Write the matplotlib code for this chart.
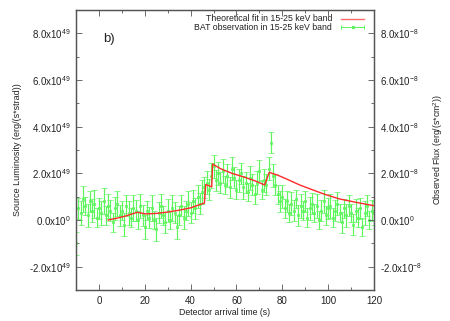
import matplotlib
matplotlib.use("Agg")
import matplotlib.pyplot as plt
from matplotlib.ticker import FixedLocator, MultipleLocator

plt.rcParams['font.family'] = ['Liberation Sans', 'DejaVu Sans']
plt.rcParams['mathtext.fontset'] = 'custom'
plt.rcParams['mathtext.rm'] = 'Liberation Sans'
plt.rcParams['mathtext.default'] = 'regular'

# BAT observation (units of 1e49 erg/(s*strad))
obs_t = list(range(-10, 121))
obs_l = [-1.0, 0.5, 0.3, 0.9, 0.6, 0.2, 0.8, 0.4, 0.7, 0.1,
         0.5, 0.3, 0.8, 0.2, 0.6, 0.4, -0.1, 0.5, 0.7, 0.2,
         0.4, -0.2, 0.6, 0.3, 0.1, 0.5, 0.4, 0.0, 0.6, 0.2,
         -0.3, 0.4, 0.1, 0.5, 0.0, -0.4, 0.3, 0.6, 0.2, -0.1,
         0.4, 0.0, 0.5, 0.3, -0.3, 0.2, 0.6, 0.1, 0.4, 0.7,
         0.3, 0.8, 0.5, 1.0, 0.7, 1.2, 1.4, 1.6, 1.3, 1.9,
         2.3, 1.7, 2.0, 1.6, 2.1, 1.5, 1.9, 1.4, 2.2, 1.8,
         1.3, 1.7, 2.0, 1.4, 1.6, 1.2, 1.8, 1.5, 1.1, 1.6,
         2.1, 1.3, 1.7, 1.5, 2.2, 3.3, 1.9, 1.5, 1.1, 0.8,
         1.0, 0.5, 0.8, 0.3, 0.7, 0.4, 0.9, 0.2, 0.6, 0.4,
         0.8, 0.1, 0.5, 0.7, 0.3, 0.6, 0.0, 0.4, 0.8, 0.2,
         0.5, 0.6, 0.1, 0.4, 0.7, 0.3, -0.1, 0.5, 0.2, 0.6,
         0.3, -0.2, 0.4, 0.1, 0.5, -0.3, 0.3, 0.6, 0.0, 0.4,
         0.3]
obs_err = [0.5, 0.45, 0.5, 0.55, 0.4, 0.5, 0.45, 0.5, 0.6, 0.4,
           0.45, 0.5, 0.55, 0.4, 0.5, 0.45, 0.4, 0.5, 0.55, 0.45,
           0.4, 0.5, 0.45, 0.5, 0.4, 0.55, 0.45, 0.4, 0.5, 0.45,
           0.5, 0.4, 0.45, 0.55, 0.4, 0.5, 0.45, 0.5, 0.4, 0.45,
           0.5, 0.4, 0.55, 0.45, 0.5, 0.4, 0.45, 0.5, 0.4, 0.55,
           0.45, 0.5, 0.45, 0.5, 0.45, 0.5, 0.45, 0.5, 0.45, 0.55,
           0.5, 0.45, 0.5, 0.45, 0.5, 0.4, 0.5, 0.45, 0.5, 0.45,
           0.4, 0.5, 0.45, 0.5, 0.45, 0.4, 0.5, 0.45, 0.4, 0.5,
           0.45, 0.4, 0.5, 0.45, 0.5, 0.45, 0.5, 0.45, 0.4, 0.45,
           0.5, 0.4, 0.45, 0.4, 0.5, 0.45, 0.4, 0.45, 0.5, 0.4,
           0.45, 0.4, 0.5, 0.45, 0.4, 0.5, 0.4, 0.45, 0.5, 0.4,
           0.45, 0.5, 0.4, 0.45, 0.5, 0.4, 0.45, 0.4, 0.5, 0.45,
           0.4, 0.45, 0.5, 0.4, 0.45, 0.4, 0.5, 0.45, 0.4, 0.45,
           0.5]

# Theoretical fit (units of 1e49)
fit_t = [4, 8, 12, 16.7, 20.4, 25, 30, 35, 40, 44, 46, 46.6, 49.2, 49.6,
         53, 58, 63, 68, 72.3, 74.3, 78, 82, 87.6, 93, 98.5, 105, 112, 120]
fit_l = [0.0, 0.08, 0.18, 0.33, 0.26, 0.28, 0.34, 0.42, 0.52, 0.66, 0.72, 1.52, 1.42, 2.4,
         2.2, 2.0, 1.85, 1.68, 1.5, 2.04, 1.92, 1.75, 1.5, 1.3, 1.1, 0.9, 0.76, 0.61]

left_ticks = [-2, 0, 2, 4, 6, 8]
left_labels = ['-2.0x10$^{49}$', '0.0x10$^{0}$', '2.0x10$^{49}$', '4.0x10$^{49}$',
               '6.0x10$^{49}$', '8.0x10$^{49}$']
right_labels = ['-2.0x10$^{-8}$', '0.0x10$^{0}$', '2.0x10$^{-8}$', '4.0x10$^{-8}$',
                '6.0x10$^{-8}$', '8.0x10$^{-8}$']
fit_label = 'Theoretical fit in 15-25 keV band'
obs_label = 'BAT observation in 15-25 keV band'

fig = plt.figure(figsize=(4.5, 3.21), dpi=100)
ax = fig.add_axes([0.169, 0.0966, 0.662, 0.8724])

green = '#5cf55c'
red = '#ff2a2a'
ax.errorbar(obs_t, obs_l, yerr=obs_err, fmt='s', ms=1.4, color=green, ecolor=green,
            elinewidth=0.85, capsize=2.0, capthick=0.8, mew=0.5, zorder=2)
ax.plot(fit_t, fit_l, color=red, lw=1.0, zorder=3)

ax.set_xlim(-10, 120)
ax.set_ylim(-3, 9)
ax.xaxis.set_major_locator(FixedLocator([0, 20, 40, 60, 80, 100, 120]))
ax.xaxis.set_minor_locator(MultipleLocator(10))
ax.yaxis.set_major_locator(FixedLocator(left_ticks))
ax.yaxis.set_minor_locator(MultipleLocator(1))
ax.set_yticklabels(left_labels)

ax2 = ax.twinx()
ax2.set_ylim(-3, 9)
ax2.yaxis.set_major_locator(FixedLocator(left_ticks))
ax2.yaxis.set_minor_locator(MultipleLocator(1))
ax2.set_yticklabels(right_labels)

axis_col = '#555555'
txt_col = '#222222'
for a in (ax, ax2):
    for s in a.spines.values():
        s.set_color(axis_col)
        s.set_linewidth(0.9)
ax.tick_params(axis='x', which='both', direction='in', top=True, colors=axis_col,
               labelcolor=txt_col, labelsize=7, pad=4)
ax.tick_params(axis='x', which='major', length=4, width=0.6)
ax.tick_params(axis='x', which='minor', length=2, width=0.6)
ax.tick_params(axis='y', which='both', direction='in', right=False, colors=axis_col,
               labelcolor=txt_col, labelsize=7, pad=4)
ax.tick_params(axis='y', which='major', length=4, width=0.6)
ax.tick_params(axis='y', which='minor', length=2, width=0.6)
ax2.tick_params(axis='y', which='both', direction='in', colors=axis_col,
                labelcolor=txt_col, labelsize=7, pad=4)
ax2.tick_params(axis='y', which='major', length=4, width=0.6)
ax2.tick_params(axis='y', which='minor', length=2, width=0.6)

ax.set_xlabel('Detector arrival time (s)', fontsize=6.3, color=txt_col, labelpad=2)
ax.set_ylabel('Source Luminosity (erg/(s*strad))', fontsize=6.5, color=txt_col, labelpad=5)
ax2.set_ylabel('Observed Flux (erg/(s*cm$^2$))', fontsize=6.3, color=txt_col, labelpad=7)

ax.text(0.09, 0.885, 'b)', transform=ax.transAxes, fontsize=9.5, color=txt_col)

# gnuplot-style legend, drawn in axes coordinates
tr = ax.transAxes
ax.text(0.859, 0.968, fit_label, transform=tr, ha='right', va='center', fontsize=6.3, color=txt_col)
ax.text(0.859, 0.938, obs_label, transform=tr, ha='right', va='center', fontsize=6.3, color=txt_col)
ax.plot([0.891, 0.966], [0.968, 0.968], transform=tr, color='#ff6a6a', lw=1.0, clip_on=False)
ax.plot([0.891, 0.966], [0.938, 0.938], transform=tr, color=green, lw=0.7, clip_on=False)
ax.plot([0.891, 0.966], [0.938, 0.938], transform=tr, color=green, lw=0, marker='|', ms=3, mew=0.7, clip_on=False)
ax.plot([0.9285], [0.938], transform=tr, color=green, marker='s', ms=1.3, lw=0, clip_on=False)

fig.savefig('out.png', dpi=100)
